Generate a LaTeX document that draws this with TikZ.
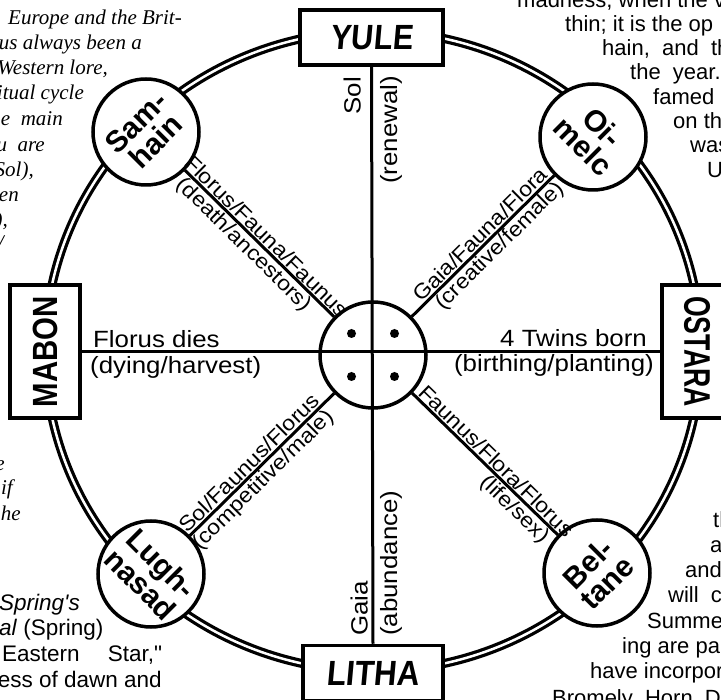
\documentclass[tikz,border=0pt]{standalone}
\usepackage{fontspec}
\usepackage{graphicx}
\setmainfont{Liberation Sans}
\newfontfamily\labfont[FakeStretch=1.1]{Liberation Sans}
\newfontfamily\pagesans{Liberation Sans}
\newfontfamily\pageserif{Liberation Serif}
\newfontfamily\handfont[FakeSlant=0.1]{Liberation Sans}
\newfontfamily\boxfont{Liberation Sans}
\begin{document}
\begin{tikzpicture}[x=1pt,y=-1pt,
  lab/.style={font=\labfont\fontsize{23.5}{26}\selectfont, inner sep=0pt},
  dlab/.style={font=\labfont\fontsize{21}{24}\selectfont, inner sep=2.5pt},
  season/.style={draw, line width=3.5pt, fill=white, circle, minimum size=106pt,
    inner sep=-12pt, align=center, font=\bfseries\fontsize{30}{27}\selectfont},
  quarter/.style={draw, line width=3.5pt, fill=white, rectangle, inner sep=0pt},
  spoke/.style={line width=3pt},
  pR/.style={font=\pagesans\fontsize{22}{24}\selectfont, inner sep=0pt, anchor=base west},
  pL/.style={font=\pagesans\fontsize{22.5}{25}\selectfont, inner sep=0pt, anchor=base east},
  pS/.style={font=\pageserif\itshape\fontsize{21}{24}\selectfont, inner sep=0pt, anchor=base east},
]
\useasboundingbox (0,0) rectangle (721,700);
\fill[white] (0,0) rectangle (721,700);
\clip (0,0) rectangle (721,700);

% surrounding page text
\node[pS] (s1) at (182,25) {Europe and the Brit-};
\node[pS] (s2) at (142,50) {us always been a};
\node[pS] (s3) at (108,75) {Western lore,};
\node[pS] (s4) at (84,100) {itual cycle};
\node[pS] (s5) at (63,126) {e\ \ main};
\node[pS] (s6) at (45,152) {u\ \ are};
\node[pS] (s7) at (34,177) {Sol),};
\node[pS] (s8) at (19,202) {en};
\node[pS] (s9) at (8,227) {),};
\node[pS] (s10) at (4,250) {/};
\node[pS] (s11) at (5,471) {e};
\node[pS] (s12) at (13,495) {if};
\node[pS] (s13) at (21,521) {he};

\node[pL, anchor=base west] (a1) at (-1,611) {\itshape Spring's};
\node[pL, anchor=base west] (a2) at (-1,636) {\textit{al} (Spring)};
\node[pL, anchor=base west] (a3) at (2,661) {\makebox[160pt][s]{Eastern Star,"}};
\node[pL] (a4) at (162,687) {less of dawn and};

\node[pR] (r1) at (517,8) {madness, when the v};
\node[pR] (r2) at (565,32) {thin; it is the op};
\node[pR] (r3) at (602,56) {hain,\ \ and\ \ th};
\node[pR] (r4) at (630,80) {the\ \ year.};
\node[pR] (r5) at (653,105) {famed};
\node[pR] (r6) at (673,129) {on th};
\node[pR] (r7) at (690,153) {was};
\node[pR] (r8) at (707,178) {U};

\node[pR] (b1) at (713,528) {th};
\node[pR] (b2) at (710,553) {are};
\node[pR] (b3) at (685,578) {and};
\node[pR] (b4) at (668,603) {will\ \ c};
\node[pR] (b5) at (647,628) {Summe};
\node[pR] (b6) at (622,653) {ing are par};
\node[pR] (b7) at (590,678) {have incorpor};
\node[pR] (b8) at (552,705) {Bromely\ \ Horn\ \ D};

% the ring
\draw[line width=9pt] (373,351) ellipse [x radius=328pt, y radius=320pt];
\draw[white, line width=2.5pt] (373,351) ellipse [x radius=328pt, y radius=320pt];

% quarter boxes
\node[quarter, minimum width=143pt, minimum height=55pt] (yule) at (371.5,37.5)
  {\handfont\bfseries\fontsize{35}{35}\selectfont\scalebox{0.88}[1]{YULE}};
\node[quarter, minimum width=140pt, minimum height=55pt] (litha) at (373,673)
  {\handfont\bfseries\fontsize{35}{35}\selectfont\scalebox{0.9}[1]{LITHA}};
\node[quarter, minimum width=70pt, minimum height=133pt] (mabon) at (45,351.5)
  {\rotatebox{90}{\boxfont\bfseries\fontsize{35}{35}\selectfont\scalebox{0.84}[1]{MABON}}};
\node[quarter, minimum width=70pt, minimum height=133pt] (ostara) at (697,351.5)
  {\rotatebox{-90}{\boxfont\bfseries\fontsize{37}{37}\selectfont\scalebox{0.72}[1]{OSTARA}}};

% cross-quarter circles
\node[season, rotate=45] (samhain) at (146,132) {Sam-\\hain};
\node[season, rotate=-45] (oimelc) at (593,137) {Oi-\\melc};
\node[season, rotate=-45] (lugh) at (151,574) {Lugh-\\nasad};
\node[season, rotate=45] (beltane) at (597,573) {Bel-\\tane};

% centre
\node[circle, draw, line width=3.5pt, fill=white, minimum size=106pt, inner sep=0pt] (center) at (373,355) {};

% spokes
\draw[spoke] (samhain) -- (center);
\draw[spoke] (center) -- (oimelc);
\draw[spoke] (lugh) -- (center);
\draw[spoke] (center) -- (beltane);
\draw[spoke] (yule.south) -- (litha.north);
\draw[spoke] (mabon.east) -- (ostara.west);

% dots
\fill (center) ++(-21.5,-21.5) circle (4.5pt);
\fill (center) ++(21.5,-21.5) circle (4.5pt);
\fill (center) ++(-21.5,21.5) circle (4.5pt);
\fill (center) ++(21.5,21.5) circle (4.5pt);

% spoke labels
\node[lab, rotate=90, anchor=south east] (sol) at (361,77) {Sol};
\node[lab, rotate=90, anchor=north east] (renewal) at (380,76) {(renewal)};
\node[lab, rotate=90, anchor=south west] (gaia) at (368,636) {Gaia};
\node[lab, rotate=90, anchor=north west] (abundance) at (380,636) {(abundance)};
\node[lab, anchor=base west] (fdies) at (93,348) {Florus dies};
\node[lab, anchor=base west] (dying) at (90,374) {(dying/harvest)};
\node[lab, anchor=base east] (twins) at (647,347) {4 Twins born};
\node[lab, anchor=base east] (birthing) at (654,372) {(birthing/planting)};

\path (samhain) -- (center)
  node[dlab, sloped, above, pos=0.5] (d1) {Florus/Fauna/Faunus}
  node[dlab, sloped, below, pos=0.45] (d2) {(death/ancestors)};
\path (center) -- (oimelc)
  node[dlab, sloped, above, pos=0.53] (d3) {Gaia/Fauna/Flora}
  node[dlab, sloped, below, pos=0.56] (d4) {(creative/female)};
\path (lugh) -- (center)
  node[dlab, sloped, above, pos=0.46] (d5) {Sol/Faunus/Florus}
  node[dlab, sloped, below, pos=0.45] (d6) {(competitive/male)};
\path (center) -- (beltane)
  node[dlab, sloped, above, pos=0.53] (d7) {Faunus/Flora/Florus}
  node[dlab, sloped, below, pos=0.76] (d8) {(life/sex)};
\end{tikzpicture}
\end{document}
